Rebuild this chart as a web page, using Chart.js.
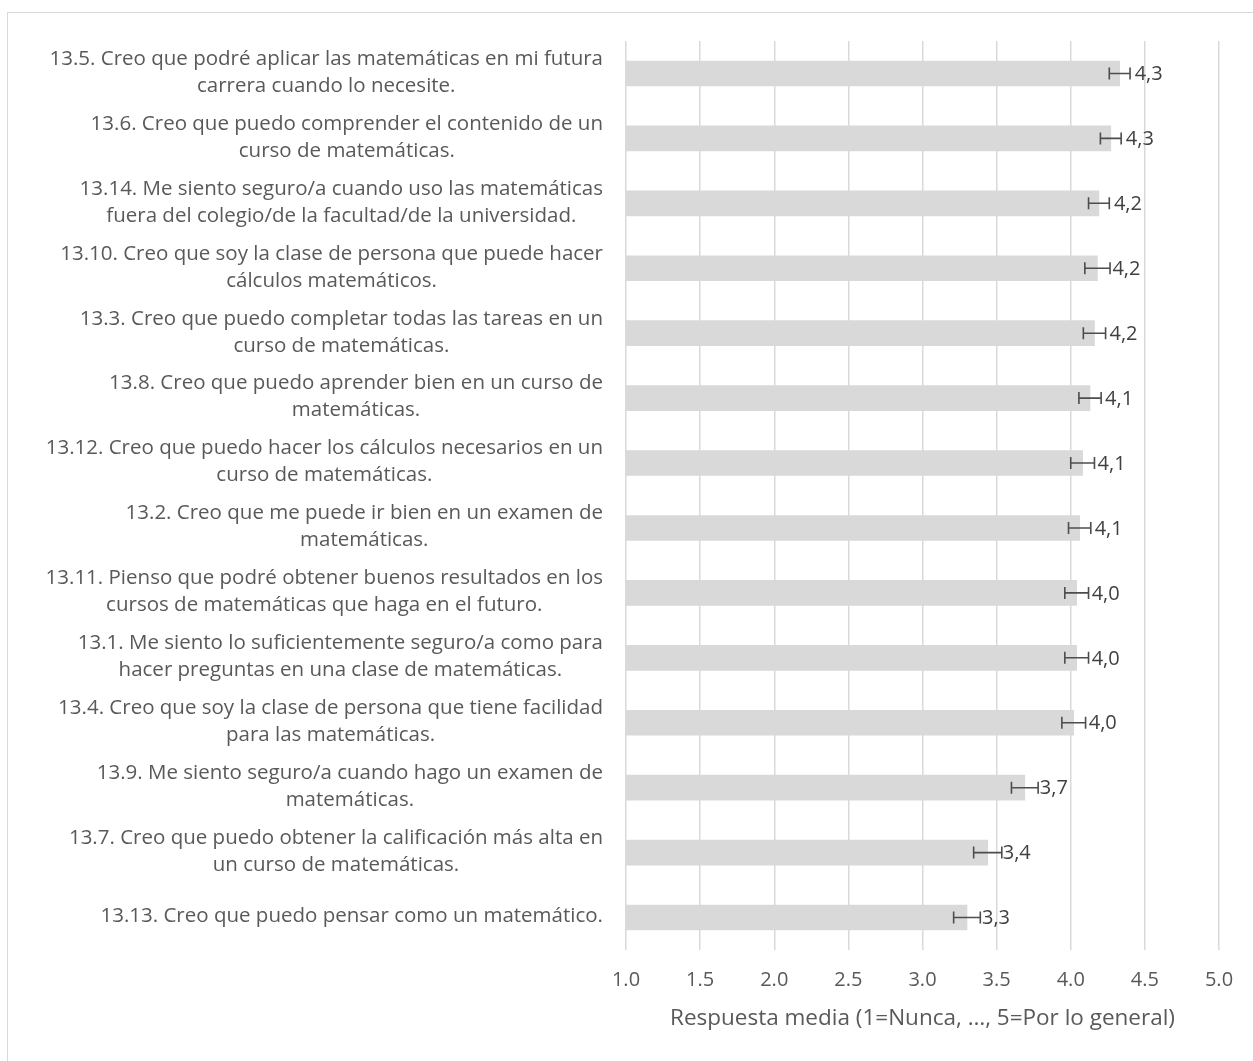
<!DOCTYPE html>
<html>
<head>
<meta charset="utf-8">
<script src="https://cdn.jsdelivr.net/npm/chart.js@4"></script>
<style>
  html, body { margin: 0; padding: 0; background: #fff; }
  #wrap { position: relative; width: 1253px; height: 1061px; overflow: hidden; }
  #frame { position: absolute; left: 7px; top: 12px; width: 1300px; height: 1100px; border: 1.5px solid #d9d9d9; box-sizing: border-box; }
  canvas { position: absolute; left: 0; top: 0; }
</style>
</head>
<body>
<div id="wrap">
  <div id="frame"></div>
  <canvas id="chart" width="1253" height="1061"></canvas>
</div>
<script>
// items, top to bottom, with the line breaks as in the picture
const items = [
  ['13.5. Creo que podré aplicar las matemáticas en mi futura', 'carrera cuando lo necesite.'],
  ['13.6. Creo que puedo comprender el contenido de un', 'curso de matemáticas.'],
  ['13.14. Me siento seguro/a cuando uso las matemáticas', 'fuera del colegio/de la facultad/de la universidad.'],
  ['13.10. Creo que soy la clase de persona que puede hacer', 'cálculos matemáticos.'],
  ['13.3. Creo que puedo completar todas las tareas en un', 'curso de matemáticas.'],
  ['13.8. Creo que puedo aprender bien en un curso de', 'matemáticas.'],
  ['13.12. Creo que puedo hacer los cálculos necesarios en un', 'curso de matemáticas.'],
  ['13.2. Creo que me puede ir bien en un examen de', 'matemáticas.'],
  ['13.11. Pienso que podré obtener buenos resultados en los', 'cursos de matemáticas que haga en el futuro.'],
  ['13.1. Me siento lo suficientemente seguro/a como para', 'hacer preguntas en una clase de matemáticas.'],
  ['13.4. Creo que soy la clase de persona que tiene facilidad', 'para las matemáticas.'],
  ['13.9. Me siento seguro/a cuando hago un examen de', 'matemáticas.'],
  ['13.7. Creo que puedo obtener la calificación más alta en', 'un curso de matemáticas.'],
  ['13.13. Creo que puedo pensar como un matemático.']
];
const means = [4.33, 4.27, 4.19, 4.18, 4.16, 4.13, 4.08, 4.06, 4.04, 4.04, 4.02, 3.69, 3.44, 3.30];
const errs  = [0.07, 0.07, 0.07, 0.085, 0.075, 0.075, 0.08, 0.075, 0.08, 0.08, 0.08, 0.09, 0.095, 0.09];
const xTicks = [1.0, 1.5, 2.0, 2.5, 3.0, 3.5, 4.0, 4.5, 5.0];
const xTitle = 'Respuesta media (1=Nunca, …, 5=Por lo general)';

const FONT = '"Open Sans", sans-serif';

// category labels, centred line by line, block right-aligned next to the plot
const labelPlugin = {
  id: 'itemLabels',
  afterDraw(chart) {
    const ctx = chart.ctx;
    const y = chart.scales.y;
    const right = chart.chartArea.left - 23;
    const lineH = 27;
    ctx.save();
    ctx.font = '20.5px ' + FONT;
    ctx.fillStyle = '#595959';
    ctx.textAlign = 'center';
    ctx.textBaseline = 'middle';
    items.forEach((lines, i) => {
      const w = Math.max(...lines.map(l => ctx.measureText(l).width));
      const cx = right - w / 2;
      const cy = y.getPixelForValue(i) - 1;
      lines.forEach((l, k) => {
        ctx.fillText(l, cx, cy + (k - (lines.length - 1) / 2) * lineH);
      });
    });
    ctx.restore();
  }
};

// error bars + value labels ("4,3")
const errorPlugin = {
  id: 'errBars',
  afterDatasetsDraw(chart) {
    const ctx = chart.ctx;
    const x = chart.scales.x;
    const meta = chart.getDatasetMeta(0);
    ctx.save();
    meta.data.forEach((bar, i) => {
      const cy = bar.y;
      const x0 = x.getPixelForValue(means[i] - errs[i]);
      const x1 = x.getPixelForValue(means[i] + errs[i]);
      ctx.strokeStyle = '#4d4d4d';
      ctx.lineWidth = 1.6;
      ctx.beginPath();
      ctx.moveTo(x0, cy); ctx.lineTo(x1, cy);
      ctx.moveTo(x0, cy - 6); ctx.lineTo(x0, cy + 6);
      ctx.moveTo(x1, cy - 6); ctx.lineTo(x1, cy + 6);
      ctx.stroke();

      ctx.font = '20px ' + FONT;
      ctx.fillStyle = '#404040';
      ctx.textAlign = 'left';
      ctx.textBaseline = 'middle';
      ctx.fillText(means[i].toFixed(1).replace('.', ','), bar.x + 15, cy + 1);
    });
    ctx.restore();
  }
};

new Chart(document.getElementById('chart'), {
  type: 'bar',
  data: {
    labels: items.map(l => l.join(' ')),
    datasets: [{
      data: means,
      backgroundColor: '#d9d9d9',
      borderWidth: 0,
      barThickness: 25
    }]
  },
  options: {
    indexAxis: 'y',
    responsive: false,
    animation: false,
    layout: { padding: { left: 626, right: 34, top: 41, bottom: 0 } },
    plugins: { legend: { display: false }, tooltip: { enabled: false } },
    scales: {
      x: {
        min: 1, max: 5,
        afterBuildTicks: s => { s.ticks = xTicks.map(v => ({ value: v })); },
        afterFit: s => { s.height = 111; },
        grid: { color: '#d9d9d9', lineWidth: 1.5, drawTicks: false },
        border: { display: false },
        ticks: {
          padding: 18,
          color: '#595959',
          font: { family: FONT, size: 20 },
          callback: v => Number(v).toFixed(1)
        },
        title: {
          display: true,
          text: xTitle,
          color: '#595959',
          font: { family: FONT, size: 22.5 },
          padding: { top: 0, bottom: 29 }
        }
      },
      y: { display: false }
    }
  },
  plugins: [labelPlugin, errorPlugin]
});
</script>
</body>
</html>
